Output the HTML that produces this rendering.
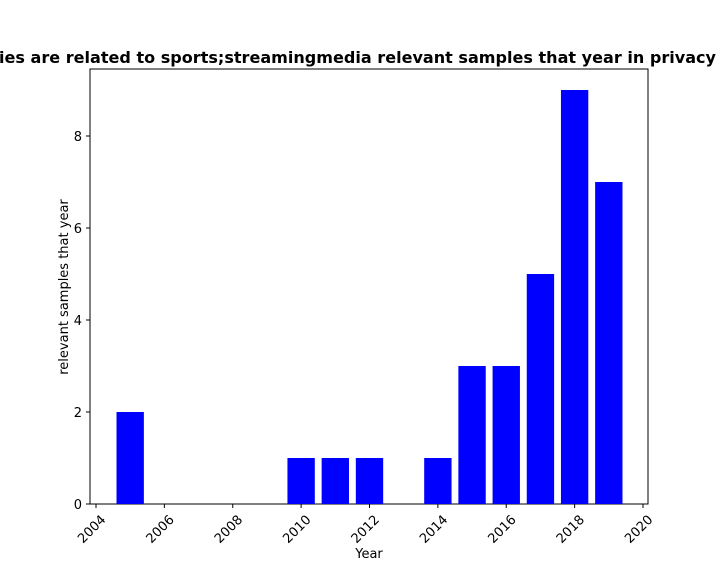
<!DOCTYPE html>
<html><head><meta charset="utf-8"><style>
body{margin:0;background:#fff;}
svg{display:block;font-family:"DejaVu Sans","Liberation Sans",sans-serif;}
</style></head><body>
<svg id="chart" width="720" height="576">
<text x="-1" y="63" font-size="16" font-weight="bold" fill="#000" textLength="717" lengthAdjust="spacingAndGlyphs">ies are related to sports;streamingmedia relevant samples that year in privacy</text>
<rect x="90" y="69" width="558" height="435" fill="none" stroke="#000" stroke-width="1"/>
<g id="bars"></g><g id="xt"></g><g id="yt"></g>
<text x="369" y="558" font-size="13" text-anchor="middle">Year</text>
<text transform="translate(68,287) rotate(-90)" font-size="13" text-anchor="middle">relevant samples that year</text>
</svg>
<script>
const years=[2005,2010,2011,2012,2014,2015,2016,2017,2018,2019];
const counts=[2,1,1,1,1,3,3,5,9,7];
const xTicks=[2004,2006,2008,2010,2012,2014,2016,2018,2020];
const yTicks=[0,2,4,6,8];
const ns="http://www.w3.org/2000/svg";
const xs=v=>96+(v-2004)*(643-96)/16;
const ys=v=>504-v*46;
const bw=0.8*(643-96)/16;
const bars=document.getElementById('bars');
years.forEach((y,i)=>{
 const r=document.createElementNS(ns,'rect');
 r.setAttribute('x',xs(y)-bw/2);r.setAttribute('y',ys(counts[i]));
 r.setAttribute('width',bw);r.setAttribute('height',ys(0)-ys(counts[i]));
 r.setAttribute('fill','#0000ff');
 
 
 bars.appendChild(r);
});
const xt=document.getElementById('xt');
xTicks.forEach(t=>{
 const x=xs(t);
 const l=document.createElementNS(ns,'line');
 l.setAttribute('x1',x);l.setAttribute('x2',x);l.setAttribute('y1',504);l.setAttribute('y2',508);l.setAttribute('stroke','#000');
 xt.appendChild(l);
 const tx=document.createElementNS(ns,'text');
 tx.setAttribute('transform',`translate(${x+4},${514}) rotate(-45)`);
 tx.setAttribute('text-anchor','end');tx.setAttribute('font-size','13');tx.setAttribute('dy','0.7em');
 tx.textContent=t;
 
 
 xt.appendChild(tx);
});
const yt=document.getElementById('yt');
yTicks.forEach(t=>{
 const y=ys(t);
 const l=document.createElementNS(ns,'line');
 l.setAttribute('x1',86);l.setAttribute('x2',90);l.setAttribute('y1',y);l.setAttribute('y2',y);l.setAttribute('stroke','#000');
 yt.appendChild(l);
 const tx=document.createElementNS(ns,'text');
 tx.setAttribute('x',82);tx.setAttribute('y',y+5);tx.setAttribute('text-anchor','end');tx.setAttribute('font-size','13');
 tx.textContent=t;
 
 
 yt.appendChild(tx);
});
</script>
</body></html>
